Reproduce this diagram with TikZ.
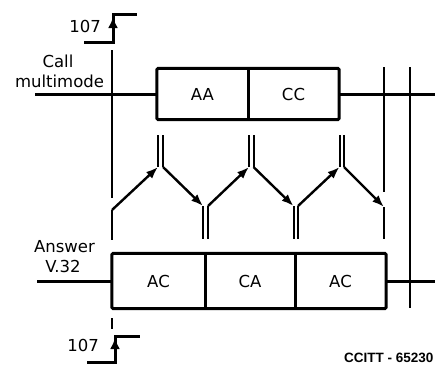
\documentclass[tikz,border=0pt]{standalone}
\usepackage{fontspec}
\setmainfont{DejaVu Sans}
\newfontfamily\labfont{Liberation Sans}
\usetikzlibrary{arrows.meta}
\begin{document}
\begin{tikzpicture}[x=1pt,y=-1pt,
  txt/.style={font=\fontsize{16.5}{18}\selectfont, inner sep=0pt},
  cell/.style={inner sep=0pt, font=\fontsize{16.5}{18}\selectfont},
  frame/.style={line width=3pt, rounded corners=1.5pt},
  divider/.style={line width=3pt},
  sigline/.style={line width=3pt},
  thinline/.style={line width=1.3pt},
  pairline/.style={line width=2pt},
  flow/.style={line width=2.4pt, -{Latex[length=12pt,width=9pt]}},
  stepline/.style={line width=3pt},
  steptip/.style={line width=3pt, -{Latex[length=11pt,width=10pt]}},
]
\useasboundingbox (0,0) rectangle (435,365);

% call side boxes
\node[cell, minimum width=91pt, minimum height=51pt] (aa) at (202.5,94) {AA};
\node[cell, minimum width=91pt, minimum height=51pt] (cc) at (293.5,94) {CC};
\draw[frame] (aa.north west) rectangle (cc.south east);
\draw[divider] (aa.north east) -- (aa.south east);

% answer side boxes
\node[cell, minimum width=93pt, minimum height=55pt] (ac1) at (158.5,281) {AC};
\node[cell, minimum width=90pt, minimum height=55pt] (ca) at (250,281) {CA};
\node[cell, minimum width=91pt, minimum height=55pt] (ac2) at (340.5,281) {AC};
\draw[frame] (ac1.north west) rectangle (ac2.south east);
\draw[divider] (ac1.north east) -- (ac1.south east);
\draw[divider] (ca.north east) -- (ca.south east);

% signal lines
\coordinate (callL) at (35,94);
\coordinate (callR) at (435,94);
\coordinate (ansL) at (37,281);
\coordinate (ansR) at (435,281);
\draw[sigline] (callL) -- (aa.west);
\draw[sigline] (cc.east) -- (callR);
\draw[sigline] (ansL) -- (ac1.west);
\draw[sigline] (ac2.east) -- (ansR);

% labels
\node[txt, anchor=base] (calla) at (58,67) {Call};
\node[txt, anchor=base] (callb) at (59.5,87) {multimode};
\node[txt, anchor=base] (ansa) at (64.5,252) {Answer};
\node[txt, anchor=base] (ansb) at (63,272) {V.32};

% left timing line
\coordinate (lt1) at (112,50);
\coordinate (lt2) at (112,198);
\coordinate (lt3) at (112,210);
\coordinate (lt4) at (112,240);
\coordinate (lt5) at (112,318);
\coordinate (lt6) at (112,329);
\draw[thinline] (lt1) -- (lt2);
\draw[pairline] (lt3) -- (lt4);
\draw[thinline] (lt5) -- (lt6);

% right timing lines
\coordinate (ra1) at (384,67);
\coordinate (ra2) at (384,192);
\coordinate (ra3) at (384,207);
\coordinate (ra4) at (384,239);
\coordinate (rb1) at (410,67);
\coordinate (rb2) at (410,308);
\draw[thinline] (ra1) -- (ra2);
\draw[pairline] (ra3) -- (ra4);
\draw[thinline] (rb1) -- (rb2);

% top pairs
\foreach \n/\xl/\xr in {1/158/163, 2/249/253.5, 3/339.5/344} {
  \coordinate (tl\n) at (\xl,135);
  \coordinate (tlb\n) at (\xl,167);
  \coordinate (tr\n) at (\xr,135);
  \coordinate (trb\n) at (\xr,167);
  \draw[pairline] (tl\n) -- (tlb\n);
  \draw[pairline] (tr\n) -- (trb\n);
}
% bottom pairs
\foreach \n/\xl/\xr in {1/203/208, 2/293.5/298} {
  \coordinate (bl\n) at (\xl,206);
  \coordinate (blb\n) at (\xl,239);
  \coordinate (br\n) at (\xr,206);
  \coordinate (brb\n) at (\xr,239);
  \draw[pairline] (bl\n) -- (blb\n);
  \draw[pairline] (br\n) -- (brb\n);
}

% flow arrows
\draw[flow] (lt3) -- (tlb1);
\draw[flow] (trb1) -- (bl1);
\draw[flow] (br1) -- (tlb2);
\draw[flow] (trb2) -- (bl2);
\draw[flow] (br2) -- (tlb3);
\draw[flow] (trb3) -- (ra3);

% 107 steps
\coordinate (s1a) at (84,42);
\coordinate (s1b) at (113,42);
\coordinate (s1c) at (113,14);
\coordinate (s1d) at (137,14);
\coordinate (s1m) at (113,34);
\coordinate (s1t) at (113,17);
\draw[stepline] (s1a) -- (s1b) -- (s1c) -- (s1d);
\draw[steptip] (s1m) -- (s1t);
\node[txt, anchor=east] (n107a) at (101,26.5) {107};

\coordinate (s2a) at (87,362);
\coordinate (s2b) at (115,362);
\coordinate (s2c) at (115,336);
\coordinate (s2d) at (140,336);
\coordinate (s2m) at (115,356);
\coordinate (s2t) at (115,338);
\draw[stepline] (s2a) -- (s2b) -- (s2c) -- (s2d);
\draw[steptip] (s2m) -- (s2t);
\node[txt, anchor=east] (n107b) at (99,345.5) {107};

\node[anchor=base west, inner sep=0pt, font=\labfont\bfseries\fontsize{13.5}{15}\selectfont] (ref) at (344,362) {CCITT - 65230};
\end{tikzpicture}
\end{document}
